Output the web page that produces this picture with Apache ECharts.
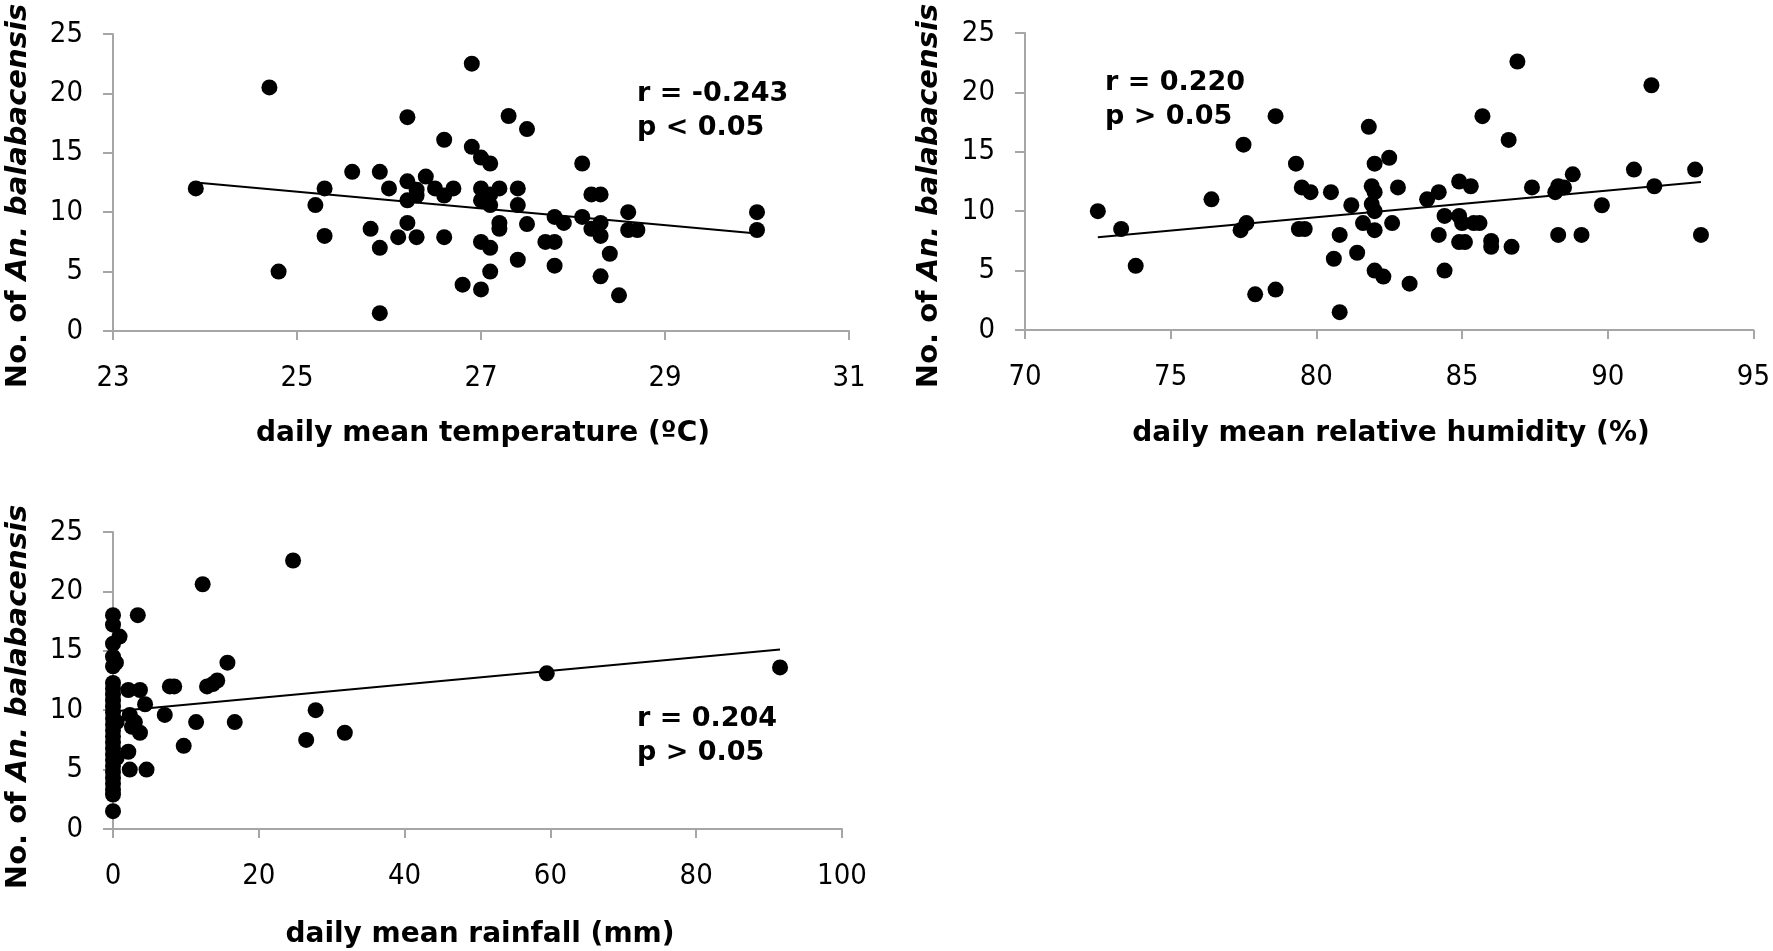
<!DOCTYPE html>
<html>
<head>
<meta charset="utf-8">
<script src="https://cdn.jsdelivr.net/npm/echarts@6/dist/echarts.min.js"></script>
<style>
html,body{margin:0;padding:0;background:#fff;}
#c{width:1773px;height:951px;}
</style>
</head>
<body>
<div id="c"></div>
<script>
// ---- Data ----
const tempPoints = [[23.9,12.0],[24.7,20.5],[24.8,5.0],[25.2,10.6],[25.3,12.0],[25.3,8.0],[25.6,13.4],[25.8,8.6],[25.9,13.4],[25.9,7.0],[25.9,1.5],[26.0,12.0],[26.1,7.9],[26.2,18.0],[26.2,12.6],[26.2,11.0],[26.2,9.1],[26.3,11.9],[26.3,11.4],[26.3,7.9],[26.4,13.0],[26.5,12.0],[26.6,16.1],[26.6,11.4],[26.6,7.9],[26.7,12.0],[26.8,3.9],[26.9,22.5],[26.9,15.5],[27.0,14.6],[27.0,12.0],[27.0,11.0],[27.0,7.5],[27.0,3.5],[27.1,14.1],[27.1,11.5],[27.1,10.6],[27.1,7.0],[27.1,5.0],[27.2,12.0],[27.2,9.1],[27.2,8.6],[27.3,18.1],[27.4,12.0],[27.4,10.6],[27.4,6.0],[27.5,17.0],[27.5,9.0],[27.7,7.5],[27.8,9.6],[27.8,7.5],[27.8,5.5],[27.9,9.1],[28.1,14.1],[28.1,9.6],[28.2,11.5],[28.2,8.6],[28.3,11.5],[28.3,9.1],[28.3,8.0],[28.3,4.6],[28.4,6.5],[28.5,3.0],[28.6,10.0],[28.6,8.5],[28.7,8.5],[30.0,10.0],[30.0,8.5]];
const humPoints = [[72.5,10.0],[73.3,8.5],[73.8,5.4],[76.4,11.0],[77.5,15.6],[77.4,8.4],[77.6,9.0],[77.9,3.0],[78.6,18.0],[78.6,3.4],[79.3,14.0],[79.4,8.5],[79.6,8.5],[79.5,12.0],[79.8,11.6],[80.5,11.6],[80.6,6.0],[80.8,8.0],[80.8,1.5],[81.2,10.5],[81.4,6.5],[81.6,9.0],[81.8,17.1],[81.9,12.1],[81.9,10.6],[82.0,14.0],[82.0,11.6],[82.0,10.0],[82.0,8.4],[82.0,5.0],[82.3,4.5],[82.5,14.5],[82.6,9.0],[82.8,12.0],[83.2,3.9],[83.8,11.0],[84.2,11.6],[84.2,8.0],[84.4,9.6],[84.4,5.0],[84.9,12.5],[84.9,9.6],[84.9,7.4],[85.0,9.0],[85.1,7.4],[85.3,12.1],[85.4,9.0],[85.6,9.0],[85.7,18.0],[86.0,7.5],[86.0,7.0],[86.6,16.0],[86.7,7.0],[86.9,22.6],[87.4,12.0],[88.2,11.6],[88.3,8.0],[88.3,12.1],[88.5,12.0],[88.8,13.1],[89.1,8.0],[89.8,10.5],[90.9,13.5],[91.5,20.6],[91.6,12.1],[93.0,13.5],[93.2,8.0]];
const rainPoints = [[0,18.0],[0,17.2],[0,15.6],[0,14.5],[0,13.7],[0,12.3],[0,11.8],[0,11.3],[0,10.8],[0,10.3],[0,9.8],[0,9.3],[0,8.8],[0,8.3],[0,7.8],[0,7.3],[0,6.8],[0,6.3],[0,5.8],[0,5.3],[0,4.8],[0,4.3],[0,3.8],[0,3.3],[0,2.9],[0,1.5],[0.9,16.2],[0.4,14.0],[0.5,9.0],[0.5,6.0],[3.4,18.0],[2.1,11.7],[3.7,11.7],[4.4,10.5],[2.3,9.6],[3.0,9.0],[2.6,8.6],[3.7,8.1],[2.1,6.5],[2.3,5.0],[4.6,5.0],[7.1,9.6],[7.8,12.0],[8.4,12.0],[9.7,7.0],[11.4,9.0],[12.3,20.6],[12.9,12.0],[13.7,12.2],[14.3,12.5],[15.7,14.0],[16.7,9.0],[24.7,22.6],[26.5,7.5],[27.8,10.0],[31.8,8.1],[59.5,13.1],[91.5,13.6]];
const tempTrend = [[23.9,12.5],[30.0,8.2]];
const humTrend = [[72.5,7.8],[93.2,12.45]];
const rainTrend = [[0,9.9],[91.5,15.1]];
const tempTicks = [23,25,27,29,31];
const humTicks = [70,75,80,85,90,95];
const rainTicks = [0,20,40,60,80,100];
const xTitles = ['daily mean temperature (\u00baC)','daily mean relative humidity (%)','daily mean rainfall (mm)'];
const yTitleA = 'No. of ';
const yTitleB = 'An. balabacensis';
const stats = [['r = -0.243','p < 0.05'],['r = 0.220','p > 0.05'],['r = 0.204','p > 0.05']];

// ---- Chart ----
const axisGray = '#a6a6a6';
const tickFont = "'Liberation Sans Narrow','DejaVu Sans Condensed',sans-serif";

const grids = [
  {left:113, top:34, width:736, height:297},
  {left:1025, top:33, width:732, height:297},
  {left:113, top:532, width:729, height:297}
];
const xRanges = [[23,31,tempTicks],[70,95,humTicks],[0,100,rainTicks]];

const xAxes = xRanges.map((r,i)=>({
  type:'value', gridIndex:i, min:r[0], max:r[1],
  axisLine:{show:true, onZero:false, lineStyle:{color:axisGray, width:2}},
  axisTick:{show:true, inside:false, length:9, customValues:r[2], lineStyle:{color:axisGray, width:2}},
  axisLabel:{show:true, margin:33, customValues:r[2], fontFamily:tickFont, fontSize:29, color:'#000'},
  splitLine:{show:false}
}));
const yAxes = [0,1,2].map(i=>({
  type:'value', gridIndex:i, min:0, max:25, interval:5,
  axisLine:{show:true, lineStyle:{color:axisGray, width:2}},
  axisTick:{show:true, inside:false, length:10, lineStyle:{color:axisGray, width:2}},
  axisLabel:{show:true, margin:30, fontFamily:tickFont, fontSize:29, color:'#000'},
  splitLine:{show:false}
}));

const pts = [tempPoints, humPoints, rainPoints];
const trends = [tempTrend, humTrend, rainTrend];
const series = [];
pts.forEach((p,i)=>{
  series.push({type:'scatter', xAxisIndex:i, yAxisIndex:i, data:p, symbol:'circle', symbolSize:16,
    itemStyle:{color:'#000', opacity:1}, emphasis:{disabled:true}, z:2, animation:false});
  series.push({type:'line', xAxisIndex:i, yAxisIndex:i, data:trends[i], showSymbol:false, symbol:'none',
    lineStyle:{color:'#000', width:2}, z:3, animation:false, silent:true});
});

const boldFont = "'DejaVu Sans', sans-serif";
const statPos = [[637,77],[1105,66],[637,702]];
const xTitlePos = [[483,434],[1391,434],[480,935]];
const yTitlePos = [[18,196],[929,196],[18,697]];
const graphic = [];
stats.forEach((s,i)=>graphic.push({
  type:'text', x:statPos[i][0], y:statPos[i][1], z:10,
  style:{text:s.join('\n'), fill:'#000', font:"bold 27px " + boldFont, lineHeight:34, align:'left', verticalAlign:'top'}
}));
xTitles.forEach((t,i)=>graphic.push({
  type:'text', x:xTitlePos[i][0], y:xTitlePos[i][1], z:10,
  style:{text:t, fill:'#000', font:"bold 28px " + boldFont, align:'center', verticalAlign:'middle'}
}));
yTitlePos.forEach((p,i)=>graphic.push({
  type:'text', x:p[0], y:p[1], rotation:Math.PI/2, z:10,
  style:{text:'{a|'+yTitleA+'}{b|'+yTitleB+'}', align:'center', verticalAlign:'middle',
    rich:{
      a:{fontFamily:boldFont, fontWeight:'bold', fontSize:29, fill:'#000'},
      b:{fontFamily:boldFont, fontWeight:'bold', fontStyle:'italic', fontSize:29, fill:'#000'}
    }}
}));

const chart = echarts.init(document.getElementById('c'), null, {renderer:'canvas'});
chart.setOption({
  backgroundColor:'#fff',
  animation:false,
  grid: grids,
  xAxis: xAxes,
  yAxis: yAxes,
  series: series,
  graphic: graphic
});
</script>
</body>
</html>
